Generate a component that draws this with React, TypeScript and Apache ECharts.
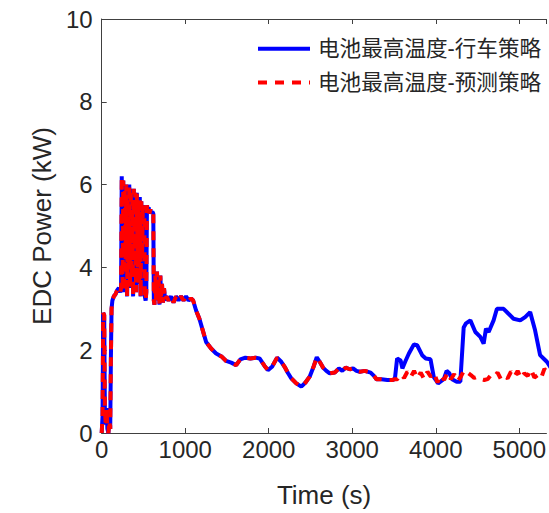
import React, { useEffect, useRef } from "react";
import * as echarts from "echarts";

// Shared segment (both strategies coincide), time in s, power in kW
const sharedTime = [
  0, 10, 18, 30, 38, 48, 58, 68, 80, 92, 102, 110, 118, 128, 145, 165, 185, 205, 222, 232,
  240, 250, 258, 268, 276, 286, 294, 304, 312, 322, 330, 340, 348, 358, 366, 376, 384, 394,
  402, 412, 420, 430, 438, 448, 456, 466, 474, 484, 492, 502, 510, 516, 526, 534, 542, 552,
  562, 572, 582, 594, 606, 618, 624, 632, 642, 652, 662, 672, 682, 692, 702, 712, 722, 734,
  746, 760, 775, 800, 830, 860, 890, 920, 950, 980, 1010, 1040, 1070, 1095, 1130, 1170,
  1210, 1250, 1310, 1370, 1440, 1490, 1550, 1610, 1660, 1720, 1780, 1840, 1890, 1950, 1990,
  2040, 2100, 2150, 2190, 2230, 2270, 2330, 2390, 2440, 2490, 2540, 2575, 2610, 2650, 2690,
  2730, 2790, 2840, 2880, 2920, 2970, 3010, 3050, 3090, 3150, 3220, 3260, 3290, 3350, 3420,
  3480, 3510,
];
const sharedPower = [
  0, 0.4, 2.9, 2.85, 0.6, 0.2, 0.6, 0.1, 0.0, 0.3, 0.1, 1.8, 3.0, 3.2, 3.3, 3.35, 3.45, 3.5, 3.4, 3.5,
  6.2, 3.6, 6.1, 3.4, 5.9, 4.2, 6.0, 3.3, 5.7, 4.0, 6.0, 3.5, 5.9, 3.8, 5.6, 3.3, 5.9, 4.4,
  5.8, 3.4, 5.8, 4.0, 5.5, 3.6, 5.7, 3.3, 5.6, 4.2, 5.5, 5.4, 5.5, 3.3, 3.2, 3.4, 5.5, 5.4,
  5.45, 5.3, 5.4, 5.3, 5.35, 5.3, 3.2, 3.1, 3.8, 3.2, 3.9, 3.2, 3.7, 3.1, 3.8, 3.3, 3.6, 3.15,
  3.5, 3.2, 3.3, 3.2, 3.3, 3.15, 3.3, 3.2, 3.3, 3.2, 3.3, 3.2, 3.25, 3.2, 2.96, 2.76,
  2.48, 2.2, 2.04, 1.92, 1.84, 1.74, 1.7, 1.64, 1.78, 1.82, 1.8, 1.82, 1.8, 1.62, 1.52,
  1.6, 1.82, 1.72, 1.6, 1.45, 1.32, 1.2, 1.12, 1.22, 1.36, 1.62, 1.83, 1.72, 1.58, 1.5,
  1.44, 1.46, 1.56, 1.5, 1.58, 1.54, 1.56, 1.5, 1.48, 1.5, 1.46, 1.38, 1.3, 1.3, 1.28,
  1.28, 1.3,
];

// 行车策略 tail
const driveTailTime = [
  3537, 3579, 3600, 3640, 3678, 3738, 3777, 3837, 3880, 3937, 3976, 4028, 4096, 4130, 4160,
  4195, 4250, 4294, 4334, 4362, 4414, 4474, 4533, 4573, 4601, 4633, 4692, 4732, 4812, 4871,
  4931, 5011, 5070, 5130, 5189, 5249, 5290, 5330, 5400,
];
const driveTailPower = [
  1.8, 1.75, 1.56, 1.75, 1.92, 2.14, 2.12, 1.88, 1.8, 1.78, 1.35, 1.2, 1.3, 1.5, 1.45,
  1.3, 1.24, 1.24, 2.55, 2.65, 2.72, 2.44, 2.32, 2.16, 2.52, 2.44, 2.72, 3.0, 3.0, 2.88,
  2.76, 2.72, 2.8, 2.92, 2.48, 1.88, 1.8, 1.72, 1.5,
];

// 预测策略 tail
const predictTailTime = [
  3540, 3580, 3620, 3660, 3700, 3740, 3780, 3820, 3860, 3900, 3940, 3980, 4020, 4060, 4100,
  4140, 4180, 4220, 4260, 4300, 4340, 4380, 4420, 4460, 4500, 4540, 4580, 4620, 4660, 4700,
  4740, 4780, 4820, 4860, 4900, 4940, 4980, 5020, 5060, 5100, 5140, 5180, 5220, 5260, 5300,
  5340, 5400,
];
const predictTailPower = [
  1.3, 1.42, 1.33, 1.48, 1.35, 1.5, 1.32, 1.46, 1.3, 1.48, 1.36, 1.45, 1.22, 1.4, 1.28,
  1.46, 1.3, 1.42, 1.25, 1.36, 1.52, 1.46, 1.4, 1.33, 1.36, 1.3, 1.28, 1.3, 1.4, 1.36,
  1.46, 1.3, 1.38, 1.32, 1.48, 1.36, 1.5, 1.32, 1.44, 1.38, 1.54, 1.34, 1.4, 1.32, 1.55,
  1.45, 1.5,
];

const seriesNames = ["电池最高温度-行车策略", "电池最高温度-预测策略"];
const xTicks = { min: 0, max: 5325, interval: 1000 };
const yTicks = { min: 0, max: 10, interval: 2 };

const zip = (t: number[], v: number[]) => t.map((x, i) => [x, v[i]]);

export default function App() {
  const ref = useRef<HTMLDivElement>(null);
  useEffect(() => {
    document.body.style.margin = "0";
    if (!ref.current) return;
    const chart = echarts.init(ref.current, undefined, { renderer: "svg" });
    const font = "'Liberation Sans', Arial, 'Noto Sans CJK SC', sans-serif";
    const axisColor = "#404040";
    const textColor = "#262626";
    const driveData = zip(sharedTime, sharedPower).concat(zip(driveTailTime, driveTailPower));
    const predictData = zip(sharedTime, sharedPower).concat(zip(predictTailTime, predictTailPower));
    const xLabelFmt = (v: number) => (v % 1000 === 0 ? String(v) : "");
    chart.setOption({
      animation: false,
      backgroundColor: "#ffffff",
      textStyle: { fontFamily: font },
      grid: { left: 101.7, top: 19, right: 1, bottom: 76 },
      legend: {
        orient: "vertical",
        left: 256,
        top: 38,
        padding: 0,
        itemWidth: 52,
        itemHeight: 20,
        itemGap: 12,
        itemStyle: { opacity: 0 },
        lineStyle: { width: 4 },
        textStyle: { fontSize: 21.6, color: textColor, fontFamily: font, padding: [0, 0, 0, 3] },
        data: seriesNames,
      },
      xAxis: [
        {
          type: "value",
          position: "bottom",
          ...xTicks,
          name: "Time (s)",
          nameLocation: "middle",
          nameGap: 49,
          nameTextStyle: { fontSize: 26, color: textColor, fontFamily: font },
          axisLine: { lineStyle: { color: axisColor, width: 1 } },
          axisTick: { inside: true, length: 5, lineStyle: { color: axisColor } },
          axisLabel: { fontSize: 24, color: textColor, margin: 4, fontFamily: font, formatter: xLabelFmt, showMaxLabel: false },
          splitLine: { show: false },
        },
        {
          type: "value",
          position: "top",
          ...xTicks,
          axisLine: { lineStyle: { color: axisColor, width: 1 } },
          axisTick: { inside: true, length: 5, lineStyle: { color: axisColor } },
          axisLabel: { show: false },
          splitLine: { show: false },
        },
      ],
      yAxis: {
        type: "value",
        ...yTicks,
        name: "EDC Power (kW)",
        nameLocation: "middle",
        nameGap: 44,
        nameRotate: 90,
        nameTextStyle: { fontSize: 26, color: textColor, fontFamily: font },
        axisLine: { show: true, lineStyle: { color: axisColor, width: 1 } },
        axisTick: { show: true, inside: true, length: 5, lineStyle: { color: axisColor } },
        axisLabel: { fontSize: 24, color: textColor, margin: 9, fontFamily: font },
        splitLine: { show: false },
      },
      series: [
        {
          name: seriesNames[0],
          type: "line",
          data: driveData,
          showSymbol: false,
          symbol: "none",
          color: "#0000ff",
          lineStyle: { color: "#0000ff", width: 4 },
          z: 2,
        },
        {
          name: seriesNames[1],
          type: "line",
          data: predictData,
          showSymbol: false,
          symbol: "none",
          color: "#ff0000",
          lineStyle: { color: "#ff0000", width: 4, type: [9, 8] },
          z: 3,
        },
      ],
    });
    return () => chart.dispose();
  }, []);
  return <div ref={ref} style={{ width: 549, height: 513 }} />;
}
